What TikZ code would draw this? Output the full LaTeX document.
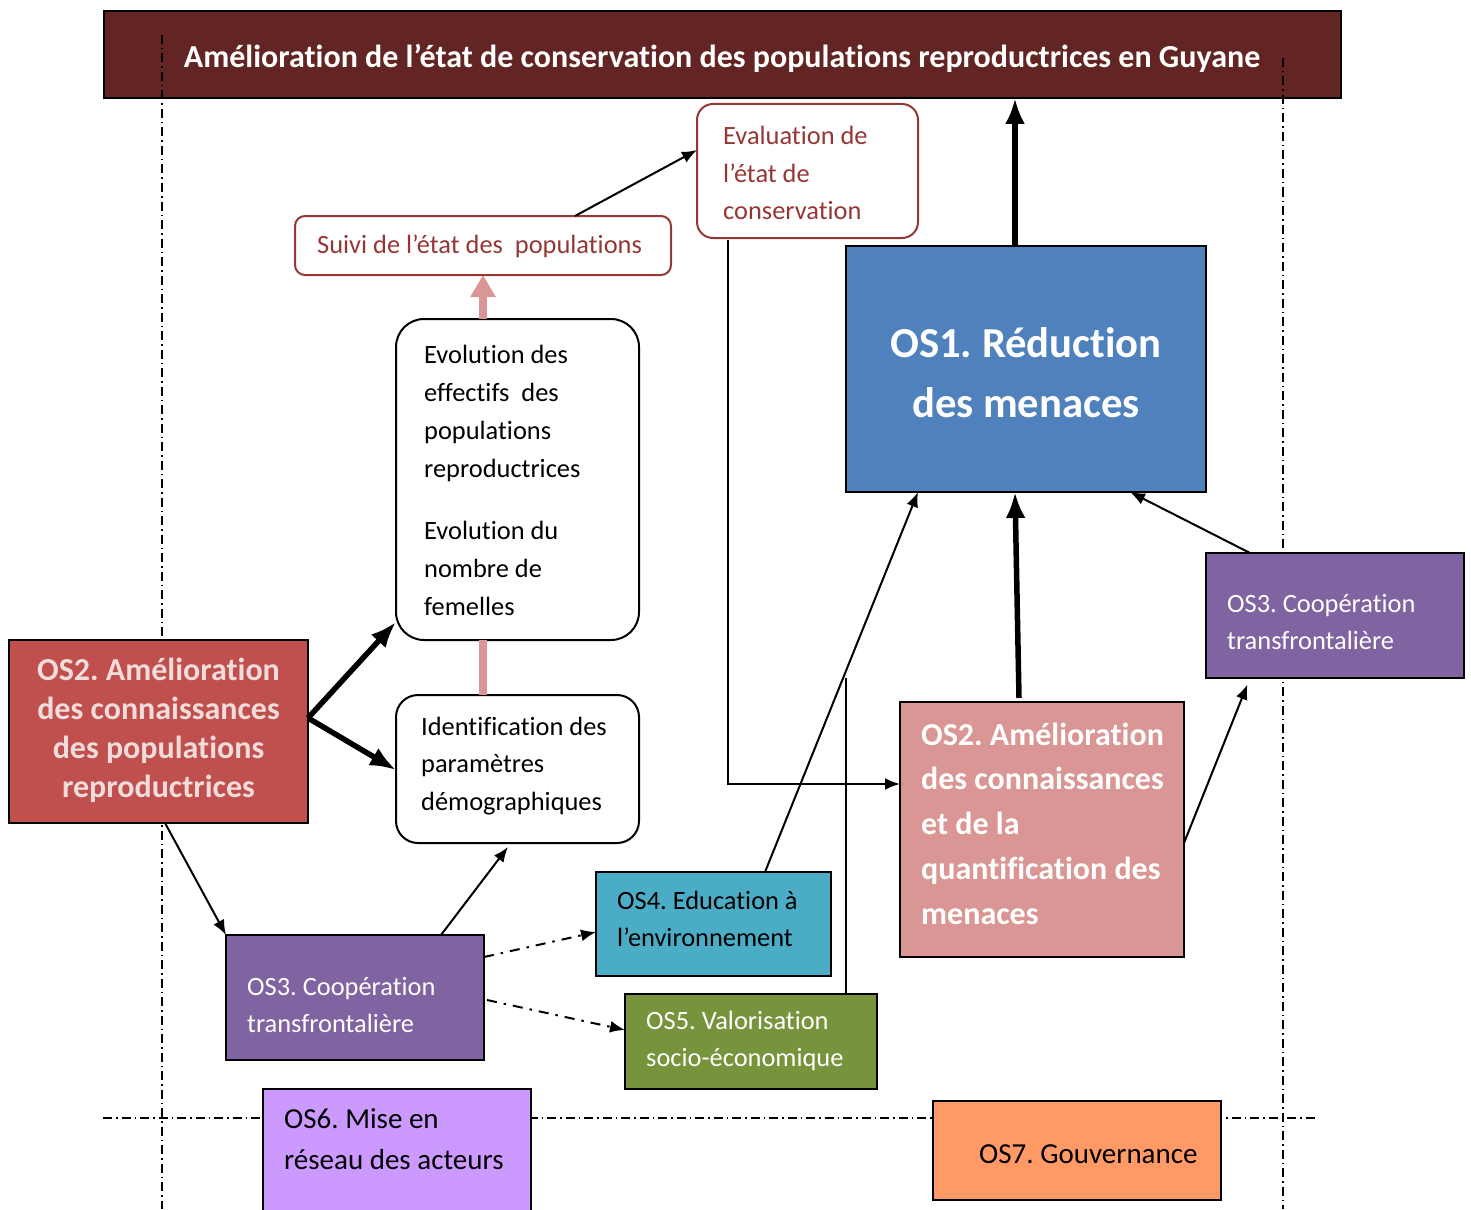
\documentclass[tikz,border=0pt]{standalone}
\usepackage{fontspec}
\setmainfont{Carlito}[Ligatures={NoCommon}]
\frenchspacing
\usetikzlibrary{arrows.meta}
\definecolor{titlec}{HTML}{632523}
\definecolor{evalc}{HTML}{953735}
\definecolor{osone}{HTML}{4F81BD}
\definecolor{ostwol}{HTML}{C0504D}
\definecolor{ostwolt}{HTML}{F2DCDB}
\definecolor{ostwor}{HTML}{D99694}
\definecolor{osthree}{HTML}{8064A2}
\definecolor{osfour}{HTML}{4BACC6}
\definecolor{osfive}{HTML}{77933C}
\definecolor{ossix}{HTML}{CC99FF}
\definecolor{osseven}{HTML}{FF9966}
\begin{document}
\begin{tikzpicture}[x=1pt,y=-1pt,
  box/.style={draw=black, line width=2pt, inner sep=0pt, outer sep=0pt},
  rbox/.style={draw=#1, line width=2pt, inner sep=0pt, outer sep=0pt},
  reg/.style={inner sep=0pt, align=left, font=\fontsize{26.4}{37.8}\selectfont},
  big/.style={inner sep=0pt, font=\fontsize{29}{41}\selectfont, align=left},
  thin/.style={-{Latex[length=15pt,width=12pt]}, line width=2pt},
  thick/.style={-{Latex[length=26pt,width=20pt]}, line width=5.5pt},
  pinkarrow/.style={-{Triangle[length=22pt,width=24pt]}, line width=8pt, draw=ostwor},
  dda/.style={thin, dash pattern=on 10pt off 7pt on 2.5pt off 7pt},
  sep/.style={line width=1.5pt, dash pattern=on 9pt off 4pt on 1.5pt off 4pt}]
\useasboundingbox (0,0) rectangle (1471,1209);
% title
\node[box, fill=titlec, minimum width=1237pt, minimum height=87pt] (title) at (722.5,54.5) {};
\node[inner sep=0pt, text=white, font=\fontsize{32}{36}\selectfont\bfseries] (titlet) at (722,58) {Amélioration de l’état de conservation des populations reproductrices en Guyane};
% separators
\draw[sep] (162,35) -- (162,1209);
\draw[sep] (1283,58) -- (1283,1209);
\draw[sep] (103,1118) -- (1315,1118);
% boxes
\node[rbox=evalc, fill=white, rounded corners=16pt, minimum width=221pt, minimum height=134pt] (eval) at (807.5,171) {};
\node[reg, text=evalc, anchor=west] (evalt) at (723,173) {Evaluation de\\l’état de\\conservation};
\node[rbox=evalc, fill=white, rounded corners=10pt, minimum width=376pt, minimum height=59pt] (suivi) at (483,245.5) {};
\node[reg, text=evalc, anchor=west] (suivit) at (317,246) {Suivi de l’état des~ populations};
\node[box, fill=osone, minimum width=360pt, minimum height=246pt] (os1) at (1026,369) {};
\node[inner sep=0pt, align=center, text=white, font=\fontsize{42.7}{60}\selectfont\bfseries] (os1t) at (1026,373) {OS1. Réduction\\des menaces};
\node[box, fill=white, rounded corners=28pt, minimum width=243pt, minimum height=321pt] (evol) at (517.5,479.5) {};
\node[reg, anchor=west] (evolt) at (424,480.5) {Evolution des\\effectifs~ des\\populations\\reproductrices\\[25pt]Evolution du\\nombre de\\femelles};
\node[box, fill=white, rounded corners=22pt, minimum width=243pt, minimum height=148pt] (ident) at (517.5,769) {};
\node[reg, anchor=west] (identt) at (421,766) {Identification des\\paramètres\\démographiques};
\node[box, fill=ostwol, minimum width=299pt, minimum height=183pt] (os2l) at (158.5,731.5) {};
\node[inner sep=0pt, align=center, text=ostwolt, font=\fontsize{32}{39}\selectfont\bfseries] (os2lt) at (158.5,730.5) {OS2. Amélioration\\des connaissances\\des populations\\reproductrices};
\node[box, fill=osthree, minimum width=258pt, minimum height=125pt] (os3r) at (1335,615.5) {};
\node[reg, text=white, anchor=west] (os3rt) at (1227,622) {OS3. Coopération\\transfrontalière};
\node[box, fill=ostwor, minimum width=284pt, minimum height=255pt] (os2r) at (1042,829.5) {};
\node[inner sep=0pt, align=left, anchor=west, text=white, font=\fontsize{32}{44.75}\selectfont\bfseries] (os2rt) at (921,823.5) {OS2. Amélioration\\des connaissances\\et de la\\quantification des\\menaces};
\node[box, fill=osfour, minimum width=235pt, minimum height=104pt] (os4) at (713.5,924) {};
\node[reg, anchor=west] (os4t) at (617,919) {OS4. Education à\\l’environnement};
\node[box, fill=osthree, minimum width=258pt, minimum height=125pt] (os3l) at (355,997.5) {};
\node[reg, text=white, anchor=west] (os3lt) at (247,1005) {OS3. Coopération\\transfrontalière};
\node[box, fill=osfive, minimum width=252pt, minimum height=95pt] (os5) at (751,1041.5) {};
\node[reg, text=white, anchor=west] (os5t) at (646,1041) {OS5. Valorisation\\socio-économique};
\node[box, fill=ossix, minimum width=268pt, minimum height=126pt] (os6) at (397,1152) {};
\node[big, anchor=west] (os6t) at (284,1139.5) {OS6. Mise en\\réseau des acteurs};
\node[box, fill=osseven, minimum width=288pt, minimum height=99pt] (os7) at (1077,1150.5) {};
\node[big, anchor=west] (os7t) at (979,1154) {OS7. Gouvernance};
% connectors
\coordinate (os5end) at (846,678);
\coordinate (evalbend) at (728,784);
\draw[thin] (suivi.north -| 575,0) -- (eval.west |- 0,150);
\draw[pinkarrow] (evol.north -| suivi.south) -- (suivi.south);
\draw[line width=8pt, draw=ostwor] (ident.north -| suivi.south) -- (evol.south -| suivi.south);
\draw[thick] (os2l.east |- 0,718) -- (evol.west |- 0,622);
\draw[thick] (os2l.east |- 0,718) -- (ident.west |- 0,770);
\draw[thin] (os2l.south -| 165,0) -- (os3l.north west);
\draw[thin, shorten >=5pt] (os3l.north -| 441,0) -- (ident.south -| 511,0);
\draw[dda] (os3l.east |- 0,957) -- (os4.west |- 0,932);
\draw[dda] ([xshift=3pt]os3l.east |- 0,1000) -- (os5.west |- 0,1030);
\draw[thin] (os4.north -| 765,0) -- (os1.south -| 918,0);
\draw[line width=2pt] (os5.north -| os5end) -- (os5end);
\draw[thin] ([yshift=-2pt]eval.south -| evalbend) -- (evalbend) -- (os2r.west |- evalbend);
\draw[thick] ([yshift=4pt]os2r.north -| 1019,0) -- (os1.south -| 1015,0);
\draw[thick] (os1.north -| 1015,0) -- (title.south -| 1015,0);
\draw[thin] (os3r.north -| 1250,0) -- (os1.south -| 1130,0);
\draw[thin, shorten >=7pt] (os2r.east |- 0,843) -- (os3r.south -| 1250,0);
\end{tikzpicture}
\end{document}
